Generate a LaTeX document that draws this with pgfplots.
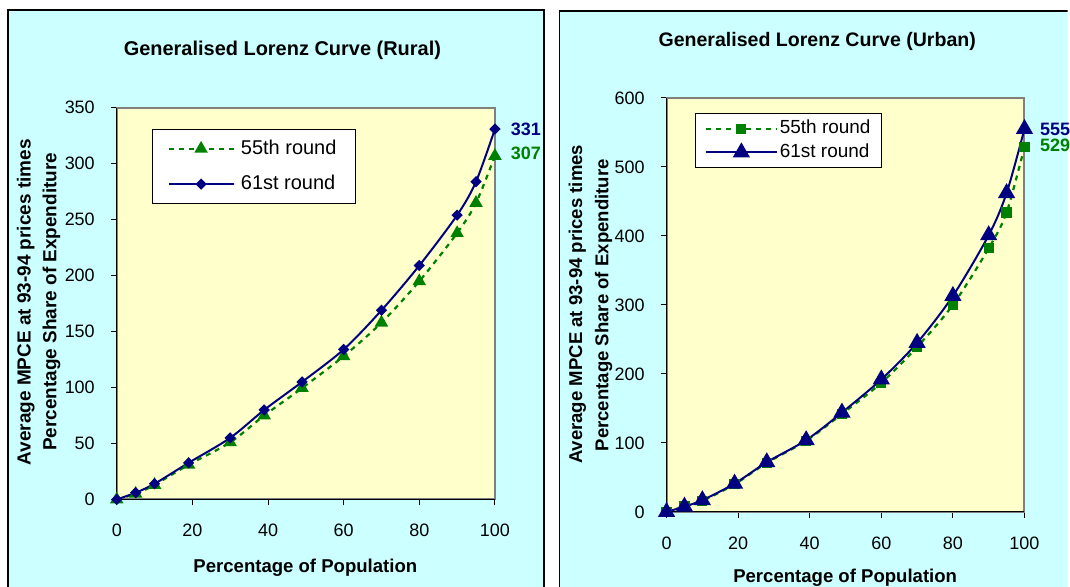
\documentclass[border=0pt]{standalone}
\usepackage{fontspec}
\setmainfont{Liberation Sans}
\usepackage{pgfplots}
\pgfplotsset{compat=1.18}
\definecolor{panelbg}{HTML}{CCFFFF}
\definecolor{plotbg}{HTML}{FFFFCC}
\definecolor{rgreen}{HTML}{008000}
\definecolor{rnavy}{HTML}{000080}

\pgfplotsset{
  lorenz/.style={
    scale only axis,
    anchor=south west,
    xmin=0, xmax=100,
    xtick={0,20,...,100},
    axis background/.style={fill=plotbg},
    axis line style={draw=gray, line width=1pt},
    tick align=outside,
    tick pos=left,
    major tick length=3pt,
    tick style={black, line width=0.5pt},
    tick label style={font=\fontsize{9}{10}\selectfont},
    yticklabel style={xshift=-4.5pt},
    xticklabel style={yshift=-6pt},
    /pgf/number format/assume math mode=true,
    clip=false,
    legend cell align=left,
    legend image code/.code={
      \draw[mark repeat=2, mark phase=2, #1]
        plot coordinates {(0pt,0pt) (16.25pt,0pt) (32.5pt,0pt)};
    },
  },
  r55/.style={rgreen, line width=1.1pt, dash pattern=on 2.5pt off 2.5pt, smooth},
  r61/.style={rnavy, line width=1pt, smooth},
}

\begin{document}
\begin{tikzpicture}
\begin{scope}[x=0.5pt, y=-0.5pt]
  \clip (0,0) rectangle (1070,588);
  \fill[white] (0,0) rectangle (1070,588);
  \filldraw[fill=panelbg, draw=black, line width=0.7pt] (8,10) rectangle (545,620);
  \filldraw[fill=panelbg, draw=black, line width=0.7pt] (561,11) rectangle (1090,620);

  \node[font=\bfseries\fontsize{10}{12}\selectfont] at (283,50) {Generalised Lorenz Curve (Rural)};
  \node[font=\bfseries\fontsize{9.5}{11}\selectfont, rotate=90] at (25.8,303) {Average MPCE at 93-94 prices times};
  \node[font=\bfseries\fontsize{9.5}{11}\selectfont, rotate=90] at (51.7,302.5) {Percentage Share of Expenditure};
  \node[font=\bfseries\fontsize{9.3}{11}\selectfont] at (306,569) {Percentage of Population};

  \node[font=\bfseries\fontsize{9.8}{12}\selectfont] at (819,42) {Generalised Lorenz Curve (Urban)};
  \node[font=\bfseries\fontsize{9.3}{11}\selectfont, rotate=90] at (578.5,305) {Average MPCE at 93-94 prices times};
  \node[font=\bfseries\fontsize{9.3}{11}\selectfont, rotate=90] at (605,306) {Percentage Share of Expenditure};
  \node[font=\bfseries\fontsize{9.3}{11}\selectfont] at (847,579) {Percentage of Population};
\end{scope}

% Rural
\begin{axis}[lorenz,
  at={(58.5pt,-250.25pt)},
  width=189.5pt, height=196.25pt,
  ymin=0, ymax=350, ytick={0,50,...,350},
  legend style={at={(0.0937,0.9468)}, anchor=north west, draw=black, fill=white,
    font=\fontsize{10}{12}\selectfont, inner xsep=7.5pt, inner ysep=3.5pt,
    row sep=5pt, column sep=1.2pt, nodes={inner sep=2pt}},
]
\draw[black, line width=0.5pt] (rel axis cs:0,1) -- (rel axis cs:0,0) -- (rel axis cs:1,0);
\addplot[r55, mark=triangle*, mark size=2.8pt, mark options={solid, fill=rgreen}]
  coordinates {(0,0) (5,5) (10,13) (19,31) (30,51) (39,75) (49,99.5) (60,128) (70,158) (80,195) (90,238) (95,265) (100,307)};
\addlegendentry{55th round}
\addplot[r61, mark=square*, mark size=1.5pt, mark options={solid, rotate=45, fill=rnavy}]
  coordinates {(0,0) (5,6) (10,14) (19,32.7) (30,55) (39,80) (49,105) (60,134) (70,169) (80,209) (90,254) (95,284) (100,331)};
\addlegendentry{61st round}
\node[anchor=west, inner sep=0pt, xshift=7.8pt, text=rnavy, font=\bfseries\fontsize{9}{10}\selectfont] at (axis cs:100,331) {331};
\node[anchor=west, inner sep=0pt, xshift=7.8pt, yshift=1.5pt, text=rgreen, font=\bfseries\fontsize{9}{10}\selectfont] at (axis cs:100,307) {307};
\end{axis}

% Urban
\begin{axis}[lorenz,
  at={(334pt,-256.5pt)},
  width=179.35pt, height=207.45pt,
  ymin=0, ymax=600, ytick={0,100,...,600},
  legend style={at={(0.0808,0.9638)}, anchor=north west, draw=black, fill=white,
    font=\fontsize{9.5}{11}\selectfont, inner xsep=4.5pt, inner ysep=2.5pt,
    row sep=1.5pt, nodes={inner sep=1pt}},
  legend image code/.code={
    \draw[mark repeat=2, mark phase=2, #1]
      plot coordinates {(0pt,0pt) (17.75pt,0pt) (35.5pt,0pt)};
  },
]
\draw[black, line width=0.5pt] (rel axis cs:0,1) -- (rel axis cs:0,0) -- (rel axis cs:1,0);
\addplot[r55, mark=square*, mark size=2pt, mark options={solid, fill=rgreen}]
  coordinates {(0,0) (5,8) (10,16) (19,40) (28,71) (39,103) (49,142) (60,187) (70,239) (80,300) (90,382) (95,434) (100,529)};
\addlegendentry{55th round}
\addplot[r61, mark=triangle*, mark size=4pt, mark options={solid, fill=rnavy}]
  coordinates {(0,0) (5,7.7) (10,17) (19,41) (28,72) (39,104) (49,144) (60,192) (70,245) (80,313) (90,401) (95,462) (100,555)};
\addlegendentry{61st round}
\node[anchor=west, inner sep=0pt, xshift=7.6pt, text=rnavy, font=\bfseries\fontsize{9}{10}\selectfont] at (axis cs:100,555) {555};
\node[anchor=west, inner sep=0pt, xshift=7.6pt, yshift=1pt, text=rgreen, font=\bfseries\fontsize{9}{10}\selectfont] at (axis cs:100,529) {529};
\end{axis}
\end{tikzpicture}
\end{document}
